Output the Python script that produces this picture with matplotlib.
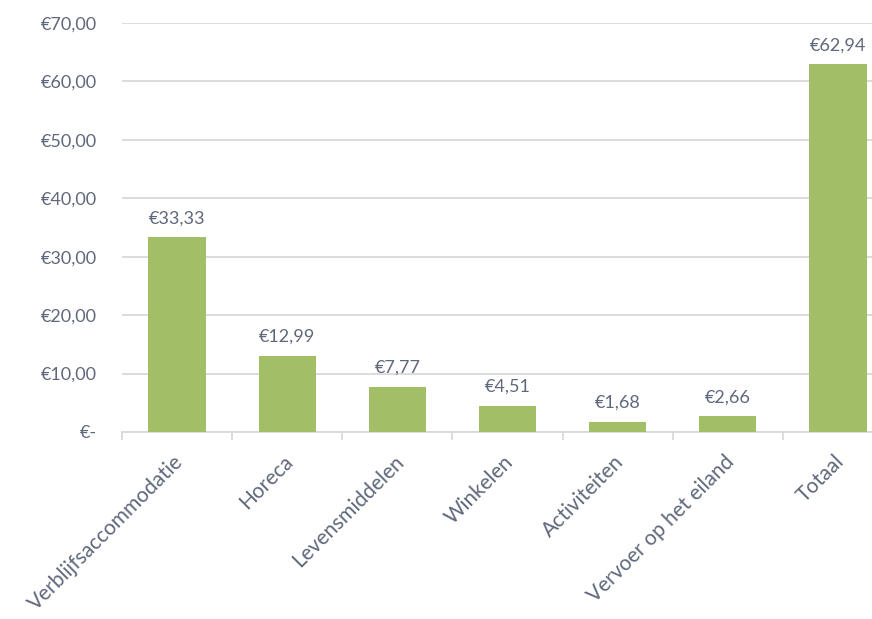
import matplotlib.pyplot as plt
from matplotlib.ticker import FixedLocator
from matplotlib.transforms import ScaledTranslation

# data
categorieen = ["Verblijfsaccommodatie", "Horeca", "Levensmiddelen", "Winkelen",
               "Activiteiten", "Vervoer op het eiland", "Totaal"]
bedragen = [33.33, 12.99, 7.77, 4.51, 1.68, 2.66, 62.94]
y_ticks = [0, 10, 20, 30, 40, 50, 60, 70]


def euro(v):
    if v == 0:
        return "€-"
    return "€" + f"{v:.2f}".replace(".", ",")


plt.rcParams['font.family'] = ['Lato', 'DejaVu Sans']
tekst = '#5f687b'
groen = '#a2bf68'
grijs = '#d9d9d9'

fig = plt.figure(figsize=(8.72, 6.19), dpi=100)
# axes loopt rechts buiten de figuur door, net als het origineel
ax = fig.add_axes([122/872, 1-432/619, 771/872, 409/619])

x = range(len(categorieen))
ax.bar(x, bedragen, width=0.52, color=groen, zorder=3)
for i, v in zip(x, bedragen):
    ax.annotate(euro(v), (i, v), xytext=(0, 8), textcoords='offset points',
                ha='center', va='bottom', color=tekst, fontsize=13)

ax.set_xlim(-0.5, len(categorieen) - 0.5)
ax.set_ylim(0, 70)
ax.set_yticks(y_ticks)
ax.set_yticklabels([euro(v) for v in y_ticks], color=tekst, fontsize=13)
ax.yaxis.grid(True, color=grijs, linewidth=1.3, zorder=0)
ax.tick_params(axis='y', length=0, pad=18)

# tickmarks op de grenzen tussen categorieen
ax.xaxis.set_major_locator(FixedLocator([i - 0.5 for i in range(len(categorieen) + 1)]))
ax.set_xticklabels([])
ax.tick_params(axis='x', length=6, width=1.3, color=grijs, direction='out')
ax.set_xticks(list(x), minor=True)
ax.set_xticklabels(categorieen, minor=True, rotation=45, ha='right', rotation_mode='anchor',
                   color=tekst, fontsize=15)
ax.tick_params(axis='x', which='minor', length=0, pad=14)
verschuif = ScaledTranslation(-4/100, 0, fig.dpi_scale_trans)
for lab in ax.get_xticklabels(minor=True):
    lab.set_transform(lab.get_transform() + verschuif)

for s in ['top', 'right', 'left']:
    ax.spines[s].set_visible(False)
ax.spines['bottom'].set_color(grijs)
ax.spines['bottom'].set_linewidth(1.3)

plt.savefig("out.png", dpi=100)
